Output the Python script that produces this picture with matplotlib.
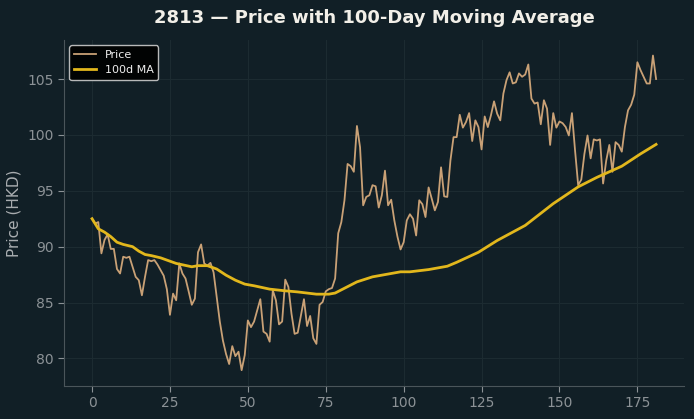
import matplotlib
matplotlib.use("Agg")
import matplotlib.pyplot as plt

# ---- data ----
price = [
    92.5, 92.07, 92.2, 89.4, 90.6, 91.1, 89.8, 89.8, 88.0, 87.6,
    89.1, 89.0, 89.1, 88.2, 87.3, 87.0, 85.65, 87.3, 88.8, 88.7,
    88.8, 88.4, 87.9, 87.4, 86.2, 83.9, 85.8, 85.2, 88.5, 87.6,
    87.15, 86.0, 84.8, 85.35, 89.5, 90.2, 88.5, 88.3, 88.55, 87.7,
    85.5, 83.3, 81.6, 80.4, 79.5, 81.1, 80.2, 80.6, 78.95, 80.3,
    83.4, 82.8, 83.3, 84.3, 85.3, 82.4, 82.2, 81.5, 86.1, 85.2,
    83.05, 83.3, 87.05, 86.4, 84.0, 82.2, 82.3, 83.8, 85.3, 82.9,
    83.8, 81.8, 81.3, 84.8, 85.05, 86.0, 86.2, 86.3, 87.15, 91.2,
    92.2, 94.15, 97.4, 97.2, 96.7, 100.8, 98.9, 93.7, 94.45, 94.6,
    95.5, 95.4, 93.5, 94.6, 96.8, 93.7, 94.2, 92.35, 90.9, 89.75,
    90.4, 92.35, 92.9, 92.5, 91.0, 94.15, 93.8, 92.65, 95.3, 94.3,
    93.25, 94.0, 97.1, 94.5, 94.45, 97.7, 99.8, 99.8, 101.8, 100.65,
    101.15, 101.95, 99.45, 101.3, 100.7, 98.7, 101.65, 100.7, 101.75, 103.0,
    101.9, 101.3, 103.7, 104.9, 105.6, 104.6, 104.7, 105.5, 105.2, 105.4,
    106.3, 103.25, 102.8, 102.9, 100.95, 103.1, 102.35, 99.1, 101.95, 100.65,
    101.2, 101.05, 100.7, 99.95, 101.95, 98.6, 95.5, 96.0, 98.3, 99.95,
    97.9, 99.6, 99.5, 99.6, 95.65, 97.7, 99.1, 96.7, 99.35, 99.1,
    98.5, 100.7, 102.2, 102.7, 103.6, 106.5, 105.8, 105.2, 104.6, 104.6,
    107.1, 105.0,
]
days = list(range(len(price)))

ma_days = [0, 2, 4, 6, 8, 10, 13, 15, 17, 19, 22, 25, 27, 32, 34, 37, 40, 43, 46,
           49, 52, 57, 62, 66, 72, 76, 78, 85, 90, 99, 102, 108, 114, 117, 124,
           130, 139, 148, 156, 162, 170, 176, 181]
ma_values = [92.5, 91.6, 91.3, 90.9, 90.4, 90.2, 90.0, 89.6, 89.3, 89.2, 89.0,
             88.7, 88.5, 88.2, 88.3, 88.3, 88.0, 87.45, 87.0, 86.65, 86.5, 86.2,
             86.05, 85.95, 85.75, 85.75, 85.85, 86.85, 87.3, 87.75, 87.75, 87.95,
             88.25, 88.6, 89.5, 90.55, 91.9, 93.85, 95.35, 96.2, 97.2, 98.3, 99.15]

title = "2813 \u2014 Price with 100-Day Moving Average"

# ---- style ----
BG = "#111f26"
GRID = "#1c2b31"
TICK = "#8c9296"
SPINE = "#4a555a"

fig = plt.figure(figsize=(6.94, 4.19), dpi=100, facecolor=BG)
ax = fig.add_axes([0.092, 0.079, 0.894, 0.826], facecolor=BG)

ax.plot(days, price, color="#c9a176", lw=1.3, label="Price", zorder=3)
ax.plot(ma_days, ma_values, color="#e2b71c", lw=2.0, label="100d MA", zorder=4)

ax.grid(True, color=GRID, lw=0.8)
ax.set_axisbelow(True)
for s in ["top", "right"]:
    ax.spines[s].set_visible(False)
for s in ["left", "bottom"]:
    ax.spines[s].set_color(SPINE)
ax.tick_params(colors=TICK, labelsize=10, length=4)
ax.set_yticks([80, 85, 90, 95, 100, 105])
ax.set_xticks([0, 25, 50, 75, 100, 125, 150, 175])
ax.set_ylabel("Price (HKD)", color="#a9adb0", fontsize=11)
ax.set_title(title, color="#f2efe8", fontsize=13, fontweight="bold", pad=12)

leg = ax.legend(loc="upper left", fontsize=8, facecolor="#000000",
                edgecolor="#cccccc", framealpha=0.9, labelcolor="#eeeeee")

fig.savefig("out.png", dpi=100, facecolor=BG)
